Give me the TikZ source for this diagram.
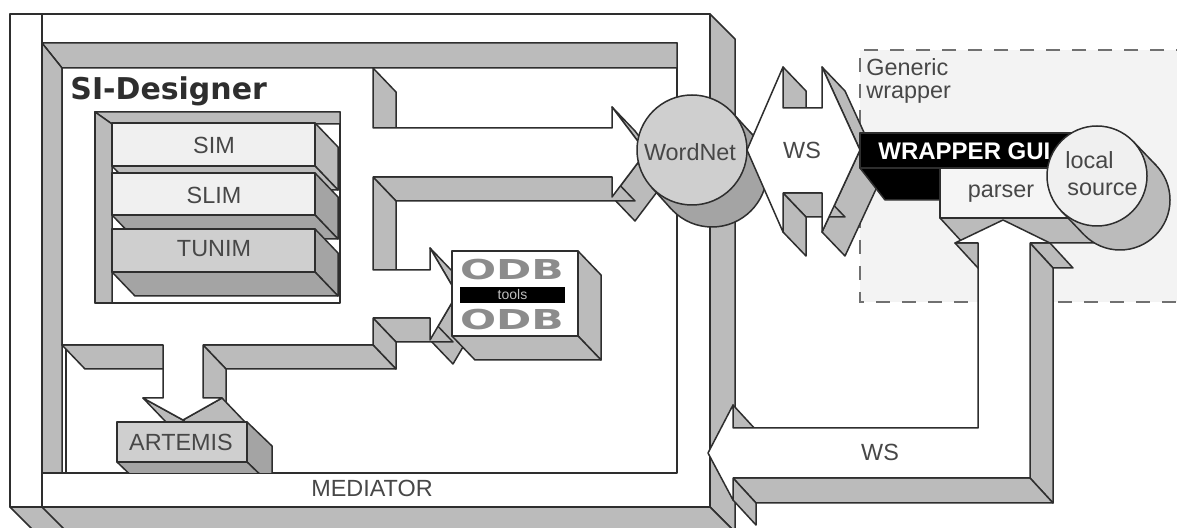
\documentclass[tikz,border=0pt]{standalone}
\usepackage{fontspec}
\setmainfont{Liberation Sans}
\newfontfamily\verafont{DejaVu Sans}
\definecolor{ink}{HTML}{2E2E2E}
\definecolor{wall}{HTML}{BBBBBB}
\definecolor{deep}{HTML}{A4A4A4}
\definecolor{txt}{HTML}{474747}
\definecolor{wrapbg}{HTML}{F3F3F3}
\definecolor{pale}{HTML}{F0F0F0}
\definecolor{midgray}{HTML}{CFCFCF}
\definecolor{odbgray}{HTML}{8C8C8C}
\definecolor{dashgray}{HTML}{707070}
\tikzset{
  outline/.style={draw=ink, line width=0.75pt, line join=round},
  lbl/.style={text=txt, inner sep=0pt, font=\fontsize{11.7pt}{13pt}\selectfont},
  odbtext/.style={text=odbgray, inner sep=0pt, font=\verafont\bfseries\fontsize{13.7pt}{14pt}\selectfont},
}
% Extruded flat shape: #1 closed list of x/y points (clockwise on screen),
% #2,#3 depth offset, #4 side colour, #5 front colour.
\newcommand{\extrude}[5]{%
  \foreach \x/\y [count=\i, remember=\x as \lx (initially 0), remember=\y as \ly (initially 0)] in {#1}{%
    \ifnum\i>1
      \pgfmathtruncatemacro\vis{((\y-\ly)*(#2)-(\x-\lx)*(#3))>0}%
      \ifnum\vis=1
        \filldraw[outline, fill=#4] (\lx,\ly) -- (\x,\y) -- (\x+#2,\y+#3) -- (\lx+#2,\ly+#3) -- cycle;
      \fi
    \fi
  }%
  \gdef\frontpath{}%
  \foreach \x/\y [count=\i] in {#1}{%
    \ifnum\i=1 \xdef\frontpath{(\x,\y)}\else\xdef\frontpath{\frontpath -- (\x,\y)}\fi
  }%
  \edef\frontcmd{\noexpand\filldraw[outline, fill=#5] \frontpath -- cycle;}%
  \frontcmd
}
% Extruded disc: centre #1,#2, radius #3, offset #4,#5, side colour #6, front colour #7
\newcommand{\drum}[7]{%
  \pgfmathsetmacro\dl{veclen(#4,#5)}%
  \pgfmathsetmacro\ux{-(#5)*(#3)/\dl}%
  \pgfmathsetmacro\uy{(#4)*(#3)/\dl}%
  \pgfmathsetmacro\rr{(#3)*0.5}%
  \filldraw[outline, fill=#6] (#1+#4,#2+#5) circle[radius=\rr pt];
  \fill[#6] (#1+\ux,#2+\uy) -- (#1+\ux+#4,#2+\uy+#5) -- (#1-\ux+#4,#2-\uy+#5) -- (#1-\ux,#2-\uy) -- cycle;
  \draw[outline] (#1+\ux,#2+\uy) -- ++(#4,#5) (#1-\ux,#2-\uy) -- ++(#4,#5);
  \filldraw[outline, fill=#7] (#1,#2) circle[radius=\rr pt];
}
\begin{document}
\begin{tikzpicture}[x=0.5pt, y=-0.5pt]
\useasboundingbox (0,0) rectangle (1177,528);
\clip (0,0) rectangle (1177,528);
\fill[white] (0,0) rectangle (1177,528);

% generic wrapper region
\fill[wrapbg] (860,50) rectangle (1190,302);
\draw[dashgray, line width=1pt, dash pattern=on 7pt off 6pt] (1190,50) -- (860,50) -- (860,302) -- (1190,302);
\node[lbl, anchor=west] (gw1) at (866,67) {Generic};
\node[lbl, anchor=west] (gw2) at (866,95) {wrapper};

% mediator frame
\filldraw[outline, fill=wall] (710,14) -- (735,39) -- (735,532) -- (710,507) -- cycle;
\filldraw[outline, fill=wall] (10,507) -- (710,507) -- (735,532) -- (35,532) -- cycle;
\draw[outline] (42,507) -- (67,532);
\filldraw[outline, fill=white, even odd rule] (10,14) rectangle (710,507) (42,43) rectangle (677,473);
\draw[outline] (42,14) -- (42,43) (42,473) -- (42,507);
\filldraw[outline, fill=wall] (42,43) -- (677,43) -- (677,68) -- (62,68) -- cycle;
\filldraw[outline, fill=wall] (42,43) -- (62,68) -- (62,473) -- (42,473) -- cycle;
\node[lbl] (mediator) at (372,488) {MEDIATOR};

% SI-Designer slab with its three outgoing arrows
\extrude{62/68,373/68,373/128,612/128,612/107,646/152,612/197,612/177,373/177,373/270,430/270,430/248,457/294,430/340,430/318,373/318,373/345,203/345,203/398,222/398,183/420,143/398,163/398,163/345,62/345,62/68}{23}{24}{wall}{white}
\draw[outline] (66,349) -- (66,473);
\node[anchor=base west, inner sep=0pt, text=ink, font=\verafont\bfseries\fontsize{15pt}{17pt}\selectfont] (sid) at (70,100) {SI-Designer};

% recess holding the three modules
\filldraw[outline, fill=white] (95,112) rectangle (340,303);
\filldraw[outline, fill=wall] (95,112) -- (340,112) -- (340,124) -- (112,124) -- cycle;
\filldraw[outline, fill=wall] (95,112) -- (112,124) -- (112,303) -- (95,303) -- cycle;
\extrude{112/123,315/123,315/166,112/166,112/123}{23}{24}{wall}{pale}
\extrude{112/173,315/173,315/215,112/215,112/173}{23}{24}{deep}{pale}
\extrude{112/229,315/229,315/272,112/272,112/229}{23}{24}{deep}{midgray}
\node[lbl] (sim) at (214,145) {SIM};
\node[lbl] (slim) at (214,195) {SLIM};
\node[lbl] (tunim) at (214,249) {TUNIM};

% ODB tools box
\extrude{452/251,578/251,578/336,452/336,452/251}{23}{24}{wall}{white}
\node[odbtext] (odbtop) at (512,270) {\scalebox{1.55}[1]{ODB}};
\node[fill=black, minimum width=52.5pt, minimum height=8pt, inner sep=0pt, text=black!25, font=\fontsize{7pt}{8pt}\selectfont] (tools) at (512.5,295) {tools};
\node[odbtext] (odbbot) at (512,320) {\scalebox{1.55}[1]{ODB}};

% ARTEMIS block, standing on the mediator floor
\begin{scope}
\clip (42,43) rectangle (677,473);
\extrude{117/422,247/422,247/462,117/462,117/422}{25}{24}{deep}{midgray}
\end{scope}
\node[lbl] (artemis) at (181,442) {ARTEMIS};

% WordNet
\drum{692}{150}{55}{20}{22}{deep}{midgray}
\node[lbl] (wordnet) at (690,152) {WordNet};

% WS double arrow
\extrude{747/150,783/67,783/108,822/108,822/67,860/150,822/232,822/193,783/193,783/232,747/150}{23}{24}{wall}{white}
\node[lbl] (ws1) at (802,150) {WS};

% wrapper GUI, parser and local source
\extrude{860/133,1100/133,1100/168,860/168,860/133}{25}{32}{black}{black}
\node[anchor=west, inner sep=0pt, text=white, font=\bfseries\fontsize{12pt}{13pt}\selectfont] (gui) at (878,151) {WRAPPER GUI};
\extrude{940/168,1085/168,1085/218,940/218,940/168}{23}{25}{wall}{white!96!black}
\node[lbl] (parser) at (1001,194) {parser};
\drum{1097}{176}{50}{23}{24}{wall}{pale}
\node[lbl, anchor=west] (local) at (1065,160) {local};
\node[lbl, anchor=west] (source) at (1067,189) {source};

% WS return arrow from parser back into the mediator
\extrude{708/453,733/405,733/428,978/428,978/243,955/243,1003/220,1050/243,1030/243,1030/478,733/478,733/500,708/453}{23}{25}{wall}{white}
\node[lbl] (ws2) at (880,452) {WS};
\end{tikzpicture}
\end{document}
